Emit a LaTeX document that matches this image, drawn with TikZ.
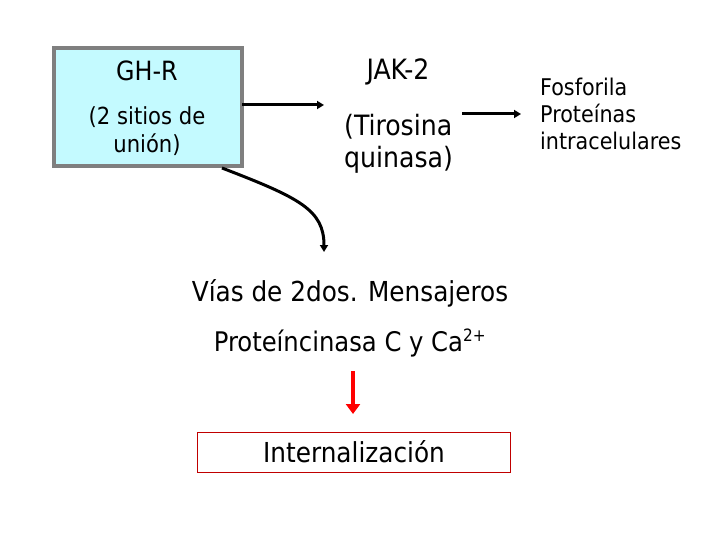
\documentclass[tikz,border=0pt]{standalone}
\usepackage{fontspec}
\setmainfont{DejaVu Sans Condensed}
\usetikzlibrary{arrows.meta}
\definecolor{boxfill}{HTML}{C4FAFF}
\definecolor{boxedge}{HTML}{7F7F7F}
\definecolor{redbox}{HTML}{C00000}
\tikzset{
  lbl/.style={inner sep=0pt, font=\fontsize{27}{32}\selectfont},
  blackarrow/.style={line width=3pt, -{Triangle[length=7pt,width=8pt]}},
}
\begin{document}
\begin{tikzpicture}[x=1pt,y=-1pt]
\useasboundingbox (0,0) rectangle (720,540);
\node[draw=boxedge, line width=4pt, fill=boxfill, minimum width=188pt, minimum height=118pt, inner sep=0pt] (ghr) at (148,107) {};
\node[lbl, font=\fontsize{26.5}{32}\selectfont] (ghrt) at (147,71) {GH-R};
\node[lbl, align=center, font=\fontsize{23.5}{28}\selectfont] (sitios) at (147,131) {(2 sitios de\\unión)};
\node[lbl, font=\fontsize{28}{32}\selectfont] (jak) at (398,72) {JAK-2};
\node[lbl, anchor=west, align=left, font=\fontsize{28}{32}\selectfont] (tiro) at (344,144) {(Tirosina\\quinasa)};
\node[lbl, anchor=west, align=left, font=\fontsize{23}{27}\selectfont] (fosf) at (540,114) {Fosforila\\Proteínas\\intracelulares};
\coordinate (a1s) at (242,105);
\coordinate (a1e) at (324,105);
\draw[blackarrow] (a1s) -- (a1e);
\coordinate (a2s) at (462,114);
\coordinate (a2e) at (521,114);
\draw[blackarrow] (a2s) -- (a2e);
\coordinate (cs) at (222,168);
\coordinate (ce) at (324,252);
\draw[line width=3pt, -{Triangle[length=7pt,width=8pt]}] (cs) .. controls (300,198) and (324,210) .. (ce);
\node[lbl, font=\fontsize{27.5}{32}\selectfont] (vias) at (350,293) {Vías de 2dos. Mensajeros};
\node[lbl, font=\fontsize{27}{32}\selectfont] (prot) at (350,343) {Proteíncinasa C y Ca\textsuperscript{\fontsize{17}{20}\selectfont 2+}};
\node[draw=redbox, line width=0.8pt, minimum width=313pt, minimum height=40pt, inner sep=0pt, font=\fontsize{27.5}{32}\selectfont] (intern) at (354,452) {Internalización};
\coordinate (rs) at (353,371);
\draw[red, line width=4.5pt, -{Triangle[length=10pt,width=14pt]}] (rs) -- (353,414);
\end{tikzpicture}
\end{document}
